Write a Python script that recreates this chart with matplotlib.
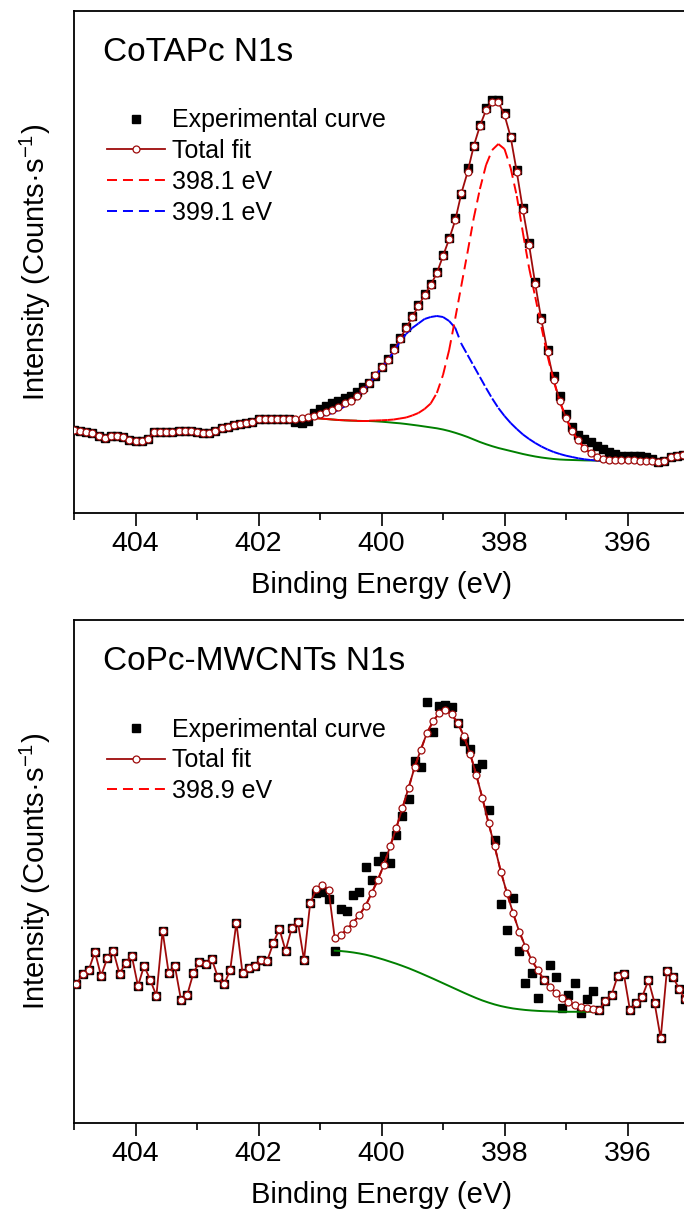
import numpy as np
import matplotlib
matplotlib.use("Agg")
import matplotlib.pyplot as plt
from matplotlib.collections import LineCollection
from matplotlib.lines import Line2D
from matplotlib.ticker import MultipleLocator

plt.rcParams['font.family'] = ['Liberation Sans', 'DejaVu Sans']
plt.rcParams['mathtext.fontset'] = 'custom'
plt.rcParams['mathtext.rm'] = 'Liberation Sans'
plt.rcParams['mathtext.it'] = 'Liberation Sans:italic'
plt.rcParams['mathtext.default'] = 'regular'
plt.rcParams['lines.scale_dashes'] = False

# ---------------- data: CoTAPc N1s (binding energy 405.0 -> 395.0 eV, 0.1 eV step)
energy_top = np.round(405.0 - 0.1 * np.arange(101), 2)
exp_top = [83, 82.3, 81.3, 79.7, 77, 75.3, 77.3, 77, 75.7, 73,
           71.7, 72, 74, 80.7, 81.3, 81, 81.3, 82, 82.3, 82.3,
           81.3, 80.3, 80.3, 82.3, 84.7, 86.3, 88, 89, 90.3, 91.3,
           93.7, 93.7, 93.7, 94, 93.7, 93.7, 91, 90, 92, 100,
           104, 107, 110, 112, 115, 117.5, 121, 126, 130, 137,
           146, 154, 165, 175, 186, 197, 208, 219, 229, 241,
           258, 275, 295, 319, 345, 367, 388, 405, 413, 413,
           400, 376, 343, 305, 270, 231, 195, 163, 137, 117,
           99, 86, 78, 74, 71, 67, 64, 61, 59, 57,
           57, 57, 57, 56, 54, 51.3, 52, 56, 57.5, 58,
           59]
fit_top_start = 401.4
fit_top = [94, 94.7, 95.7, 97, 99,
           101.3, 103, 106.3, 109.7, 112.5, 117, 123, 130, 138, 146,
           153, 163, 174, 185, 196, 207, 218, 228, 240, 257,
           274, 293, 320, 341, 367, 387, 403, 411, 411, 398,
           376, 341, 303, 268, 229, 193, 161, 133, 112, 95,
           82, 73, 65, 60, 56, 54, 53, 53, 53, 53,
           53, 52.5, 52, 52]
comp_top_start = 401.2
bg_top = [95.5, 95, 94.5, 94, 93.5, 93, 92.7, 92.4, 92.2, 92, 92, 91.7, 91.3,
          90.8, 90.2, 89.7, 89, 88.2, 87.4, 86.5, 85.6, 84.7, 83.5,
          82, 80.2, 78.2, 76, 73.5, 71, 68.8, 66.8, 65, 63.5,
          62, 60.5, 59, 57.7, 56.5, 55.5, 54.7, 54, 53.5, 53.2,
          53, 52.8, 52.6, 52.5, 52.4, 52.3]
peak_3981 = [95.5, 95, 94.5, 94, 93.5, 93, 92.7, 92.5, 92.3, 92.3, 92.3, 92.5, 92.7,
             93, 93.5, 94.5, 95.5, 97.5, 100, 104, 109.5, 120, 138,
             163, 195, 228, 261, 295, 324, 348, 363, 369, 364,
             345, 317, 280, 245, 216, 186, 157, 132, 111, 95,
             82, 72, 65, 60, 56.5, 54]
peak_3991 = [95.5, 95.7, 96.5, 98, 100, 103, 106.5, 111, 116.5, 122.5, 129, 137, 145,
             152.5, 161.5, 171, 179, 185, 189.5, 194, 196, 197, 196,
             192, 185, 169, 158, 147, 136, 125, 114.5, 105, 97,
             90, 84, 78.5, 74, 70, 66.5, 63.5, 61, 59, 57.3,
             56, 54.7, 53.7, 53, 52.5, 52.3]

# ---------------- data: CoPc-MWCNTs N1s (404.96 -> 395.06 eV)
energy_bot = np.round(404.96 - 0.1 * np.arange(100), 2)
exp_bot = [138.7, 148.4, 152.7, 171, 146.7, 164.4, 171.7, 148.7, 160, 166.7,
           136.7, 157, 142.7, 127, 191.7, 149.4, 156.7, 122.7, 127.7, 149.4,
           161, 158.7, 163.7, 145.4, 138.4, 152.7, 200, 149.4, 154.4, 156.7,
           162.7, 161.7, 179.4, 193.7, 172, 194.4, 200.4, 162.7, 219.4, 229.7,
           231, 223.4, 172, 213.4, 212, 227.7, 231, 255.4, 242.7, 261,
           266.7, 259.4, 287.7, 306, 323.4, 361, 355.4, 420, 390, 416,
           416.7, 415.4, 399.4, 381, 373.4, 354.4, 358.7, 312.7, 282.7, 218.7,
           192.7, 224.4, 172, 139.4, 149.4, 124.4, 142.7, 157.7, 145.4, 114.4,
           127.7, 140, 109.4, 123.4, 132, 112.7, 122, 127.7, 146.7, 148.7,
           112.7, 119.4, 126, 142.7, 120, 84.4, 152, 146, 133.4, 123.4]
fit_bot_start = 401.06
fit_bot = [233.4, 237.7, 232.7, 184.4, 187.7, 193.4, 200, 207.7, 216.7, 229.4,
           242.7, 257.7, 276, 294.4, 314.4, 334.4, 355.4, 372.7, 389.4, 401,
           409.4, 412, 407.7, 399.4, 386, 368.7, 347.7, 324.4, 299.4, 276,
           251, 229.4, 209.4, 191, 176, 162.7, 152.7, 142.7, 136, 129.4,
           124.4, 121, 117.7, 116, 114.4, 113.7]
comp_bot_start = 400.76
bg_bot = [172, 171.6, 171, 170.2, 169.2, 168, 166.5, 164.8, 163, 161,
          159, 156.8, 154.5, 152, 149.4, 146.7, 144, 141.2, 138.4, 135.6,
          132.8, 130, 127.3, 124.7, 122.3, 120.2, 118.3, 116.7, 115.4, 114.3,
          113.5, 112.8, 112.3, 111.9, 111.6, 111.4, 111.2, 111.1, 111, 111,
          111, 111, 111, 111]

FIT_COLOR = '#9E0B0B'
DASH = (0, (7.2, 4.3))
SQ_MS = 6.0
CI_MS = 5.0
COMP_LW = 1.4
W, H = 684, 1211

fig = plt.figure(figsize=(W / 100, H / 100), dpi=100)


def add_axes(left_px, top_px, right_px, bottom_px):
    return fig.add_axes([left_px / W, 1 - bottom_px / H,
                         (right_px - left_px) / W, (bottom_px - top_px) / H])


def idx(energy, value):
    return int(np.argmin(np.abs(energy - value)))


def full_fit(energy, exp, start, fit):
    out = np.array(exp, float)
    i = idx(energy, start)
    out[i:i + len(fit)] = fit
    return out


def origin_dashed(ax, x, y, color, z):
    pts = np.column_stack([x, y])
    segs = np.stack([pts[:-1], pts[1:]], axis=1)
    lc = LineCollection(segs, colors=color, linewidths=COMP_LW, linestyle=DASH,
                        zorder=z, capstyle='butt')
    ax.add_collection(lc)


def style_axes(ax, title):
    ax.set_xlim(405, 395)
    ax.set_ylim(0, 502)
    ax.xaxis.set_major_locator(MultipleLocator(2))
    ax.xaxis.set_minor_locator(MultipleLocator(1))
    ax.ticklabel_format(axis='x', useOffset=False)
    ax.tick_params(axis='x', which='major', direction='out', length=9, width=1.2,
                   labelsize=20.5, pad=4, top=False)
    ax.tick_params(axis='x', which='minor', direction='out', length=5, width=1.2, top=False)
    ax.tick_params(axis='y', which='both', left=False, right=False, labelleft=False)
    for s in ax.spines.values():
        s.set_linewidth(1.3)
    ax.set_xlabel('Binding Energy (eV)', fontsize=21, labelpad=10)
    ax.set_ylabel('Intensity (Counts·s$^{-1}$)', fontsize=21)
    ax.yaxis.set_label_coords(-0.034, 0.5)
    ax.text(0.047, 0.9, title, transform=ax.transAxes, fontsize=24, va='baseline')


def legend(ax, comps):
    handles = [Line2D([], [], ls='none', marker='s', ms=SQ_MS, color='black'),
               Line2D([], [], color=FIT_COLOR, lw=1.3, marker='o', ms=CI_MS,
                      mfc='white', mec=FIT_COLOR, mew=0.9)]
    labels = ['Experimental curve', 'Total fit']
    for lab, col in comps:
        handles.append(Line2D([], [], color=col, lw=COMP_LW, ls=DASH))
        labels.append(lab)
    ax.legend(handles, labels, loc='upper left', bbox_to_anchor=(0.054, 0.806),
              frameon=False, fontsize=18, handlelength=2.3, handletextpad=0.3,
              labelspacing=0.27, borderpad=0, borderaxespad=0, numpoints=1)


ax1 = add_axes(74, 11, 689, 513)
ax2 = add_axes(74, 620, 689, 1123)

# ---- top panel
fit_top_full = full_fit(energy_top, exp_top, fit_top_start, fit_top)
ci = idx(energy_top, comp_top_start)
e_comp_top = energy_top[ci:ci + len(bg_top)]
ax1.plot(energy_top, exp_top, ls='none', marker='s', ms=SQ_MS, color='black', zorder=2)
ax1.plot(energy_top, fit_top_full, color=FIT_COLOR, lw=1.3, zorder=3)
ax1.plot(e_comp_top, bg_top, color='#008000', lw=COMP_LW, zorder=4)
origin_dashed(ax1, e_comp_top, peak_3991, '#0000FF', 4)
origin_dashed(ax1, e_comp_top, peak_3981, '#FF0000', 4)
ax1.plot(energy_top, fit_top_full, ls='none', marker='o', ms=CI_MS, mfc='white',
         mec=FIT_COLOR, mew=0.9, zorder=5)
style_axes(ax1, 'CoTAPc N1s')
legend(ax1, [('398.1 eV', '#FF0000'), ('399.1 eV', '#0000FF')])

# ---- bottom panel
fit_bot_full = full_fit(energy_bot, exp_bot, fit_bot_start, fit_bot)
bi = idx(energy_bot, comp_bot_start)
e_comp_bot = energy_bot[bi:bi + len(bg_bot)]
peak_3989 = np.concatenate([fit_bot_full[bi:bi + len(bg_bot) - 1], [bg_bot[-1]]])
ax2.plot(energy_bot, exp_bot, ls='none', marker='s', ms=SQ_MS, color='black', zorder=2)
origin_dashed(ax2, e_comp_bot, peak_3989, '#FF0000', 2.5)
ax2.plot(energy_bot, fit_bot_full, color=FIT_COLOR, lw=1.3, zorder=3)
ax2.plot(e_comp_bot, bg_bot, color='#008000', lw=COMP_LW, zorder=4)
ax2.plot(energy_bot, fit_bot_full, ls='none', marker='o', ms=CI_MS, mfc='white',
         mec=FIT_COLOR, mew=0.9, zorder=5)
style_axes(ax2, 'CoPc-MWCNTs N1s')
legend(ax2, [('398.9 eV', '#FF0000')])

fig.savefig('out.png', dpi=100)
